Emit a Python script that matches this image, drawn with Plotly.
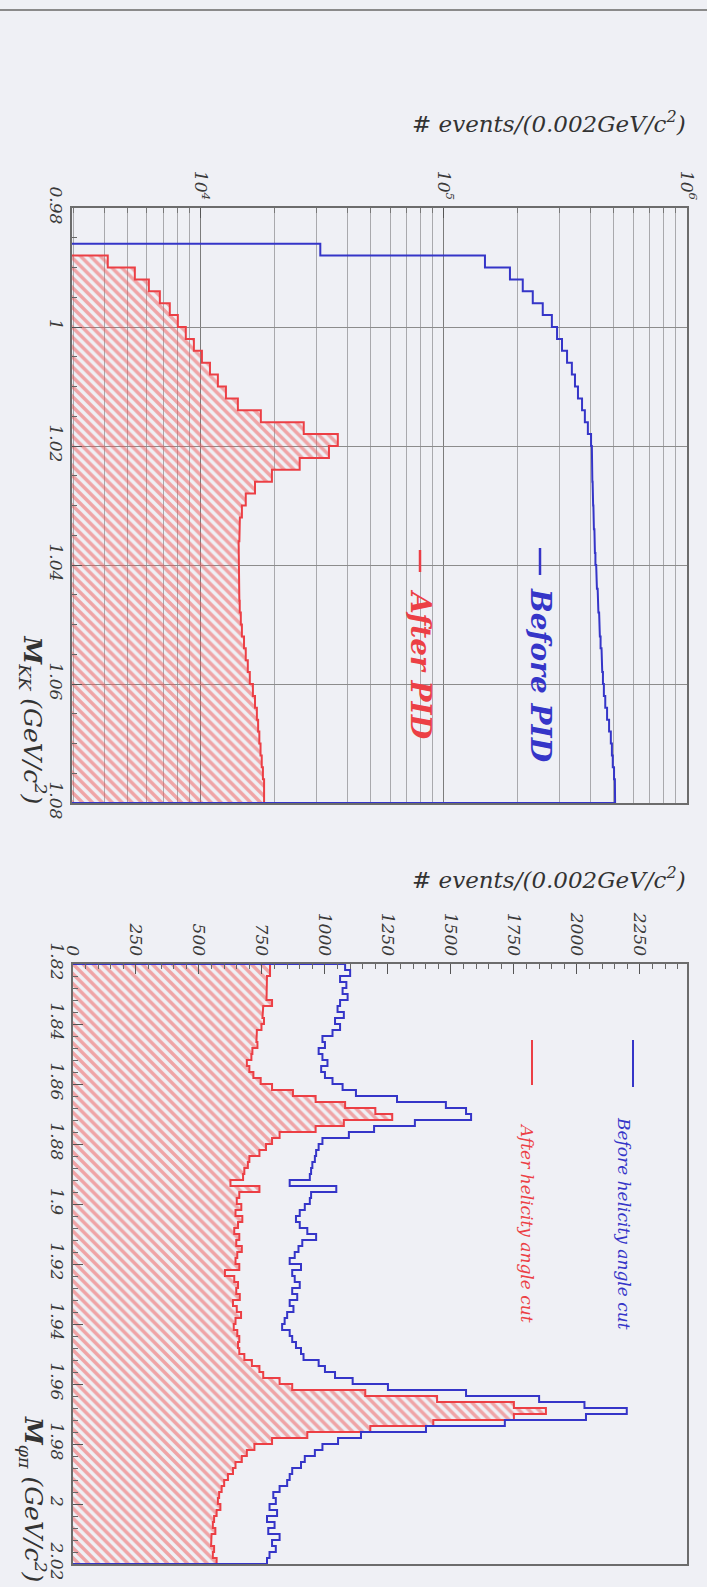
import numpy as np
import plotly.graph_objects as go

W, H = 707, 1587

# ---------------- data ----------------
# Top panel: M_KK, 0.002 GeV/c^2 bins from 0.98 to 1.08
kk_lo, kk_bin = 0.98, 0.002
kk_before = [0, 0, 0, 31000, 147500, 186900, 211000, 232000, 255000, 278000,
             292000, 306000, 321000, 336000, 346000, 356000, 370000, 380000, 391000, 403000,
             406000, 407000, 408000, 409000, 411000, 412000, 414000, 416000, 418000, 420000,
             423000, 426000, 429000, 432000, 435000, 438000, 441000, 445000, 448000, 451000,
             455000, 461000, 469000, 478000, 486000, 491000, 495000, 501000, 505000, 506000]
kk_after = [0, 0, 0, 0, 4140, 5350, 6110, 6780, 7450, 8040,
            8670, 9360, 10100, 10900, 11750, 12680, 14200, 17650, 26500, 36600,
            33650, 25500, 19600, 16700, 15300, 14750, 14470, 14400, 14300, 14300,
            14300, 14350, 14400, 14450, 14600, 14750, 15050, 15300, 15600, 15900,
            16370, 16700, 17000, 17200, 17400, 17600, 17800, 18000, 18200, 18200]

# Bottom panel: M_phipi, 0.002 GeV/c^2 bins from 1.82 to 2.02
pp_lo, pp_bin = 1.82, 0.002
pp_before = [1080, 1100, 1060, 1085, 1070, 1090, 1060, 1050, 1075, 1040,
             1060, 1030, 990, 1000, 975, 990, 1010, 985, 1000, 1030,
             1070, 1123, 1286, 1480, 1560, 1580, 1357, 1195, 1095, 990,
             975, 965, 960, 950, 945, 940, 860, 1045, 945, 940,
             920, 900, 885, 900, 930, 965, 910, 895, 880, 860,
             905, 870, 880, 900, 870, 890, 860, 875, 850, 840,
             830, 860, 870, 885, 905, 915, 975, 1000, 1040, 1110,
             1250, 1560, 1850, 2030, 2198, 2036, 1714, 1401, 1143, 1052,
             990, 960, 920, 905, 870, 860, 850, 820, 795, 805,
             780, 810, 770, 800, 775, 820, 790, 805, 780, 770]
pp_after = [782, 782, 770, 770, 770, 768, 790, 755, 752, 758,
            748, 730, 728, 732, 712, 708, 690, 700, 716, 745,
            790, 873, 963, 1080, 1200, 1267, 1075, 963, 820, 790,
            766, 740, 700, 694, 680, 675, 625, 740, 660, 650,
            668, 645, 672, 655, 640, 660, 648, 670, 652, 645,
            660, 603, 640, 655, 648, 662, 635, 650, 667, 645,
            638, 652, 660, 655, 660, 680, 710, 740, 755, 820,
            870, 1160, 1445, 1750, 1877, 1750, 1430, 1180, 930, 790,
            720, 690, 670, 645, 635, 615, 600, 590, 580, 575,
            585, 570, 560, 555, 565, 550, 548, 560, 555, 570]

kk_ticks = [0.98, 1.00, 1.02, 1.04, 1.06, 1.08]
kk_ticktext = ["0.98", "1", "1.02", "1.04", "1.06", "1.08"]
log_ticks = [1e4, 1e5, 1e6]
log_ticktext = ["10<sup>4</sup>", "10<sup>5</sup>", "10<sup>6</sup>"]
pp_ticks = [1.82, 1.84, 1.86, 1.88, 1.90, 1.92, 1.94, 1.96, 1.98, 2.00, 2.02]
pp_ticktext = ["1.82", "1.84", "1.86", "1.88", "1.9", "1.92", "1.94", "1.96", "1.98", "2", "2.02"]
cnt_ticks = [0, 250, 500, 750, 1000, 1250, 1500, 1750, 2000, 2250]

BLUE = "#3535c8"
RED = "#ec3f45"
BG = "#eff0f5"
FONT = "DejaVu Serif"


def px(x):
    return x / W


def py(y):
    return 1 - y / H


def steps(lo, width, vals, floor):
    xs, ys = [floor], [lo]
    for i, v in enumerate(vals):
        a = lo + i * width
        b = a + width
        vv = v if v > 0 else floor
        xs += [vv, vv]
        ys += [a, b]
    xs.append(floor)
    ys.append(lo + len(vals) * width)
    return xs, ys


hatch = dict(shape="\\", fgcolor="#ef5858", bgcolor="rgba(0,0,0,0)",
             size=7, solidity=0.5, fillmode="overlay")

fig = go.Figure()

# top panel
xa, ya = steps(kk_lo, kk_bin, kk_after, 1.0)
fig.add_trace(go.Scatter(x=xa, y=ya, mode="lines", fill="toself",
                         fillcolor="rgba(250,210,210,0.45)", fillpattern=hatch,
                         line=dict(color=RED, width=2), xaxis="x", yaxis="y", showlegend=False))
xb, yb = steps(kk_lo, kk_bin, kk_before, 1.0)
fig.add_trace(go.Scatter(x=xb, y=yb, mode="lines", line=dict(color=BLUE, width=2),
                         xaxis="x", yaxis="y", showlegend=False))

# bottom panel
xa2, ya2 = steps(pp_lo, pp_bin, pp_after, 0.0)
fig.add_trace(go.Scatter(x=xa2, y=ya2, mode="lines", fill="toself",
                         fillcolor="rgba(250,210,210,0.45)", fillpattern=hatch,
                         line=dict(color=RED, width=2), xaxis="x2", yaxis="y2", showlegend=False))
xb2, yb2 = steps(pp_lo, pp_bin, pp_before, 0.0)
fig.add_trace(go.Scatter(x=xb2, y=yb2, mode="lines", line=dict(color=BLUE, width=2),
                         xaxis="x2", yaxis="y2", showlegend=False))

minor_log = [m * 10 ** d for d in (3, 4, 5) for m in range(2, 10) if 2950 <= m * 10 ** d < 1e6]

tickfont = dict(family=FONT, size=17, color="#3a3a3a", style="italic")
frame = dict(showline=True, mirror=True, linecolor="#6c6c6c", linewidth=2, zeroline=False,
             automargin=False)

fig.update_layout(
    width=W, height=H, autosize=False,
    margin=dict(l=0, r=0, t=0, b=0, pad=0),
    paper_bgcolor=BG, plot_bgcolor=BG,
    showlegend=False,
    xaxis=dict(domain=[px(72), px(687)], type="log", range=[np.log10(2950), 6],
               side="top", anchor="y", tickmode="array", tickvals=log_ticks, ticktext=log_ticktext,
               tickangle=90, tickfont=tickfont, ticks="inside", ticklen=10, tickcolor="#555",
               showgrid=True, gridcolor="#7c7c7c", gridwidth=1,
               minor=dict(tickvals=minor_log, showgrid=True, gridcolor="#a9a9ad", gridwidth=1,
                          ticks="inside", ticklen=5, tickcolor="#777"),
               **frame),
    yaxis=dict(domain=[py(803), py(208)], range=[1.08, 0.98], anchor="x",
               tickmode="array", tickvals=kk_ticks, ticktext=kk_ticktext,
               tickangle=90, tickfont=tickfont, ticks="inside", ticklen=10, tickcolor="#555",
               showgrid=True, gridcolor="#8c8c8c", gridwidth=1,
               minor=dict(tick0=0.98, dtick=0.005, ticks="inside", ticklen=5, tickcolor="#666",
                          showgrid=False),
               **frame),
    xaxis2=dict(domain=[px(73), px(687)], range=[0, 2437], side="top", anchor="y2",
                tickmode="array", tickvals=cnt_ticks, ticktext=[str(t) for t in cnt_ticks],
                tickangle=90, tickfont=tickfont, ticks="inside", ticklen=10, tickcolor="#555",
                showgrid=False,
                minor=dict(tick0=0, dtick=50, ticks="inside", ticklen=5, tickcolor="#666"),
                **frame),
    yaxis2=dict(domain=[py(1564), py(964)], range=[2.02, 1.82], anchor="x2",
                tickmode="array", tickvals=pp_ticks, ticktext=pp_ticktext,
                tickangle=90, tickfont=tickfont, ticks="inside", ticklen=10, tickcolor="#555",
                showgrid=False,
                minor=dict(tick0=1.82, dtick=0.004, ticks="inside", ticklen=5, tickcolor="#666"),
                **frame),
)

title_font = dict(family=FONT, size=23, color="#333", style="italic")
ann = []
ann.append(dict(text="# events/(0.002GeV/c<sup>2</sup>)", x=px(688), y=py(122), xref="paper", yref="paper",
                xanchor="right", yanchor="middle", showarrow=False, font=title_font))
ann.append(dict(text="# events/(0.002GeV/c<sup>2</sup>)", x=px(688), y=py(878), xref="paper", yref="paper",
                xanchor="right", yanchor="middle", showarrow=False, font=title_font))
ann.append(dict(text="<b>M</b><sub>KK</sub> (GeV/c<sup>2</sup>)", x=px(33), y=py(806), xref="paper", yref="paper",
                xanchor="center", yanchor="bottom", textangle=90, showarrow=False,
                font=dict(family=FONT, size=25, color="#333", style="italic")))
ann.append(dict(text="<b>M</b><sub>φπ</sub> (GeV/c<sup>2</sup>)", x=px(33), y=py(1584), xref="paper", yref="paper",
                xanchor="center", yanchor="bottom", textangle=90, showarrow=False,
                font=dict(family=FONT, size=25, color="#333", style="italic")))
ann.append(dict(text="Before PID", x=px(541), y=py(675), xref="paper", yref="paper",
                xanchor="center", yanchor="middle", textangle=90, showarrow=False,
                font=dict(family=FONT, size=28, color=BLUE, style="italic", weight="bold")))
ann.append(dict(text="After PID", x=px(421), y=py(664), xref="paper", yref="paper",
                xanchor="center", yanchor="middle", textangle=90, showarrow=False,
                font=dict(family=FONT, size=28, color=RED, style="italic", weight="bold")))
ann.append(dict(text="Before helicity angle cut", x=px(624), y=py(1223), xref="paper", yref="paper",
                xanchor="center", yanchor="middle", textangle=90, showarrow=False,
                font=dict(family=FONT, size=17, color=BLUE, style="italic")))
ann.append(dict(text="After helicity angle cut", x=px(527), y=py(1223), xref="paper", yref="paper",
                xanchor="center", yanchor="middle", textangle=90, showarrow=False,
                font=dict(family=FONT, size=17, color=RED, style="italic")))

shapes = [
    dict(type="line", xref="paper", yref="paper", x0=0, x1=1, y0=py(10), y1=py(10),
         line=dict(color="#8a8a8a", width=2)),
    dict(type="line", xref="paper", yref="paper", x0=px(540), x1=px(540), y0=py(548), y1=py(575),
         line=dict(color=BLUE, width=2.5)),
    dict(type="line", xref="paper", yref="paper", x0=px(420), x1=px(420), y0=py(550), y1=py(572),
         line=dict(color=RED, width=2.5)),
    dict(type="line", xref="paper", yref="paper", x0=px(633), x1=px(633), y0=py(1040), y1=py(1087),
         line=dict(color=BLUE, width=2)),
    dict(type="line", xref="paper", yref="paper", x0=px(532), x1=px(532), y0=py(1040), y1=py(1085),
         line=dict(color=RED, width=2)),
]
fig.update_layout(annotations=ann, shapes=shapes)

fig.write_html("out.html")
